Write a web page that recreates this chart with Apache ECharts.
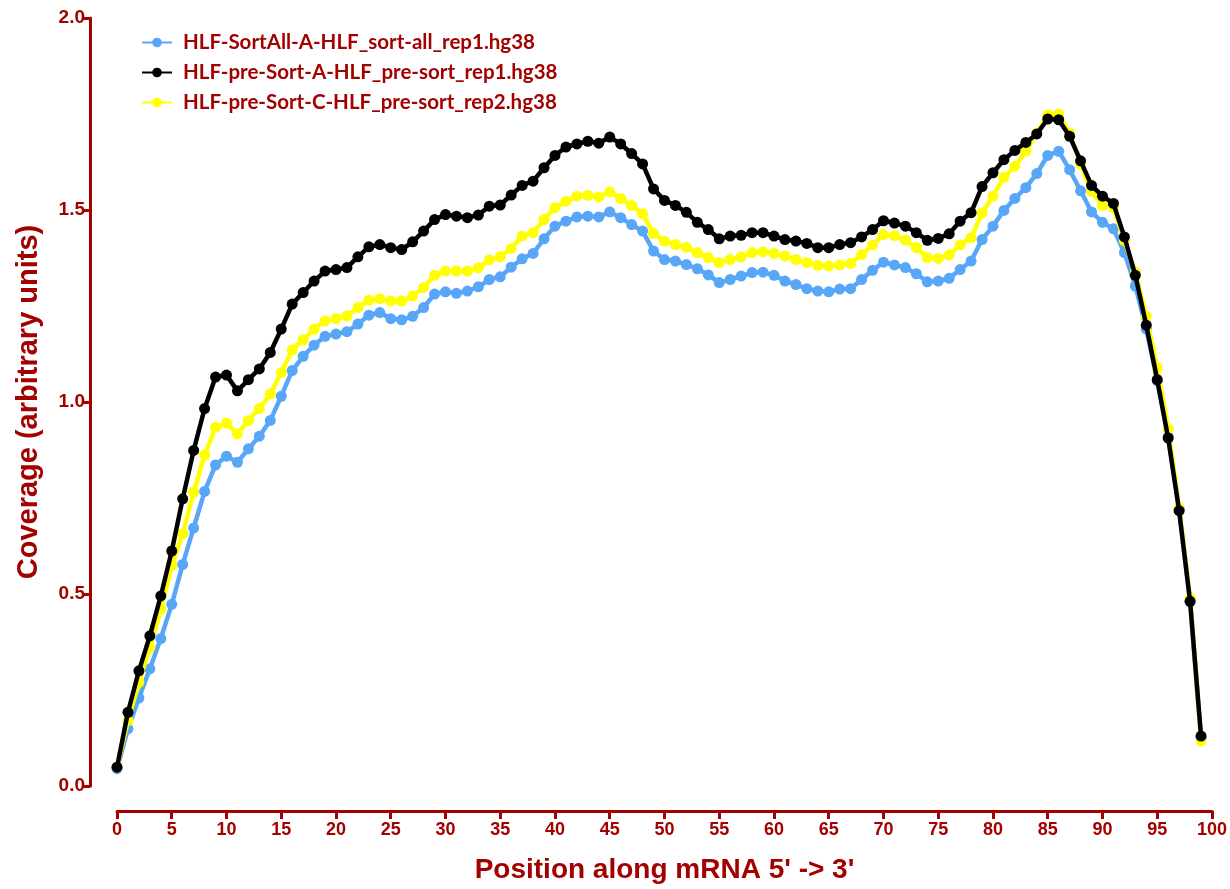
<!DOCTYPE html>
<html>
<head>
<meta charset="utf-8">
<script src="https://cdn.jsdelivr.net/npm/echarts@6/dist/echarts.min.js"></script>
<style>
html,body{margin:0;padding:0;background:#fff;}
#chart{width:1230px;height:889px;}
</style>
</head>
<body>
<div id="chart"></div>
<script>
const positions = Array.from({length: 100}, (_, i) => i);
const seriesNames = [
  'HLF-SortAll-A-HLF_sort-all_rep1.hg38',
  'HLF-pre-Sort-A-HLF_pre-sort_rep1.hg38',
  'HLF-pre-Sort-C-HLF_pre-sort_rep2.hg38'
];
const sortAllRep1 = [
  0.045,0.149,0.229,0.305,0.384,0.473,0.577,0.672,0.767,0.836,
  0.859,0.843,0.878,0.911,0.952,1.015,1.082,1.119,1.148,1.171,
  1.177,1.183,1.203,1.226,1.233,1.217,1.214,1.223,1.246,1.281,
  1.287,1.283,1.289,1.300,1.319,1.326,1.351,1.373,1.387,1.425,
  1.458,1.471,1.482,1.484,1.482,1.495,1.480,1.462,1.445,1.393,
  1.371,1.367,1.358,1.347,1.331,1.311,1.319,1.328,1.337,1.338,
  1.330,1.315,1.306,1.295,1.289,1.287,1.294,1.295,1.319,1.343,
  1.364,1.357,1.350,1.334,1.313,1.315,1.322,1.345,1.367,1.423,
  1.458,1.499,1.530,1.558,1.595,1.642,1.653,1.605,1.550,1.495,
  1.468,1.451,1.389,1.302,1.190,1.055,0.910,0.720,0.480,0.125
];
const preSortRep1 = [
  0.049,0.192,0.300,0.391,0.495,0.612,0.748,0.874,0.983,1.065,
  1.070,1.029,1.058,1.086,1.129,1.190,1.255,1.285,1.315,1.341,
  1.345,1.350,1.378,1.404,1.410,1.402,1.397,1.417,1.445,1.475,
  1.488,1.484,1.480,1.487,1.510,1.513,1.539,1.564,1.575,1.610,
  1.642,1.664,1.672,1.679,1.674,1.690,1.672,1.647,1.620,1.555,
  1.525,1.512,1.494,1.468,1.449,1.425,1.432,1.434,1.441,1.441,
  1.432,1.423,1.419,1.413,1.402,1.402,1.410,1.415,1.430,1.449,
  1.472,1.466,1.458,1.441,1.421,1.426,1.438,1.471,1.493,1.561,
  1.597,1.631,1.655,1.676,1.698,1.737,1.735,1.692,1.628,1.564,
  1.536,1.517,1.430,1.330,1.200,1.058,0.906,0.717,0.481,0.130
];
const preSortRep2 = [
  0.050,0.170,0.270,0.360,0.460,0.575,0.657,0.765,0.862,0.934,
  0.945,0.917,0.952,0.983,1.021,1.077,1.136,1.162,1.190,1.211,
  1.217,1.224,1.246,1.265,1.269,1.263,1.263,1.276,1.298,1.330,
  1.341,1.341,1.341,1.349,1.370,1.378,1.400,1.432,1.441,1.475,
  1.506,1.523,1.536,1.538,1.534,1.547,1.530,1.512,1.490,1.439,
  1.419,1.410,1.403,1.389,1.376,1.363,1.371,1.378,1.389,1.391,
  1.387,1.380,1.371,1.363,1.356,1.354,1.357,1.361,1.384,1.409,
  1.436,1.433,1.422,1.402,1.376,1.374,1.383,1.409,1.428,1.492,
  1.536,1.585,1.614,1.653,1.700,1.748,1.750,1.700,1.620,1.548,
  1.512,1.506,1.420,1.338,1.223,1.090,0.930,0.725,0.490,0.117
];
const seriesColors = ['#58a6f7', '#000000', '#ffff00'];

const red = '#a30000';
const pairs = arr => positions.map((p, i) => [p, arr[i]]);
function mkSeries(name, arr, color, z) {
  return {
    name: name, type: 'line', data: pairs(arr), z: z,
    symbol: 'circle', symbolSize: 11,
    itemStyle: {color: color},
    lineStyle: {color: color, width: 4.5},
    emphasis: {disabled: true},
    animation: false
  };
}
const chart = echarts.init(document.getElementById('chart'));
chart.setOption({
  backgroundColor: '#ffffff',
  animation: false,
  grid: {left: 117, right: 18, top: 18, bottom: 101, containLabel: false},
  legend: {
    orient: 'vertical', left: 136, top: 27, itemGap: 9,
    itemWidth: 30, itemHeight: 12,
    data: seriesNames,
    textStyle: {color: red, fontFamily: 'Lato', fontWeight: 'bold', fontSize: 20.5, padding: [0, 0, 0, 6]}
  },
  xAxis: {
    type: 'value', min: 0, max: 100, interval: 5, offset: 25,
    name: "Position along mRNA 5' -> 3'", nameLocation: 'middle', nameGap: 45,
    nameTextStyle: {color: red, fontFamily: 'Liberation Sans Narrow, Liberation Sans', fontWeight: 'bold', fontSize: 28},
    axisLine: {show: true, onZero: false, lineStyle: {color: red, width: 3}},
    axisTick: {show: true, length: 8, lineStyle: {color: red, width: 3}},
    axisLabel: {color: red, fontFamily: 'Liberation Sans Narrow, Liberation Sans', fontWeight: 'bold', fontSize: 18, margin: 10},
    splitLine: {show: false}
  },
  yAxis: {
    type: 'value', min: 0, max: 2, interval: 0.5, offset: 27,
    name: 'Coverage (arbitrary units)', nameLocation: 'middle', nameGap: 47,
    nameTextStyle: {color: red, fontFamily: 'Liberation Sans', fontWeight: 'bold', fontSize: 29},
    axisLine: {show: true, onZero: false, lineStyle: {color: red, width: 3}},
    axisTick: {show: true, length: 7, lineStyle: {color: red, width: 3}},
    axisLabel: {color: red, fontFamily: 'Liberation Sans', fontWeight: 'bold', fontSize: 19, margin: 5,
      formatter: v => v.toFixed(1)},
    splitLine: {show: false}
  },
  series: [
    mkSeries(seriesNames[0], sortAllRep1, seriesColors[0], 2),
    mkSeries(seriesNames[2], preSortRep2, seriesColors[2], 3),
    mkSeries(seriesNames[1], preSortRep1, seriesColors[1], 4)
  ]
});
</script>
</body>
</html>
